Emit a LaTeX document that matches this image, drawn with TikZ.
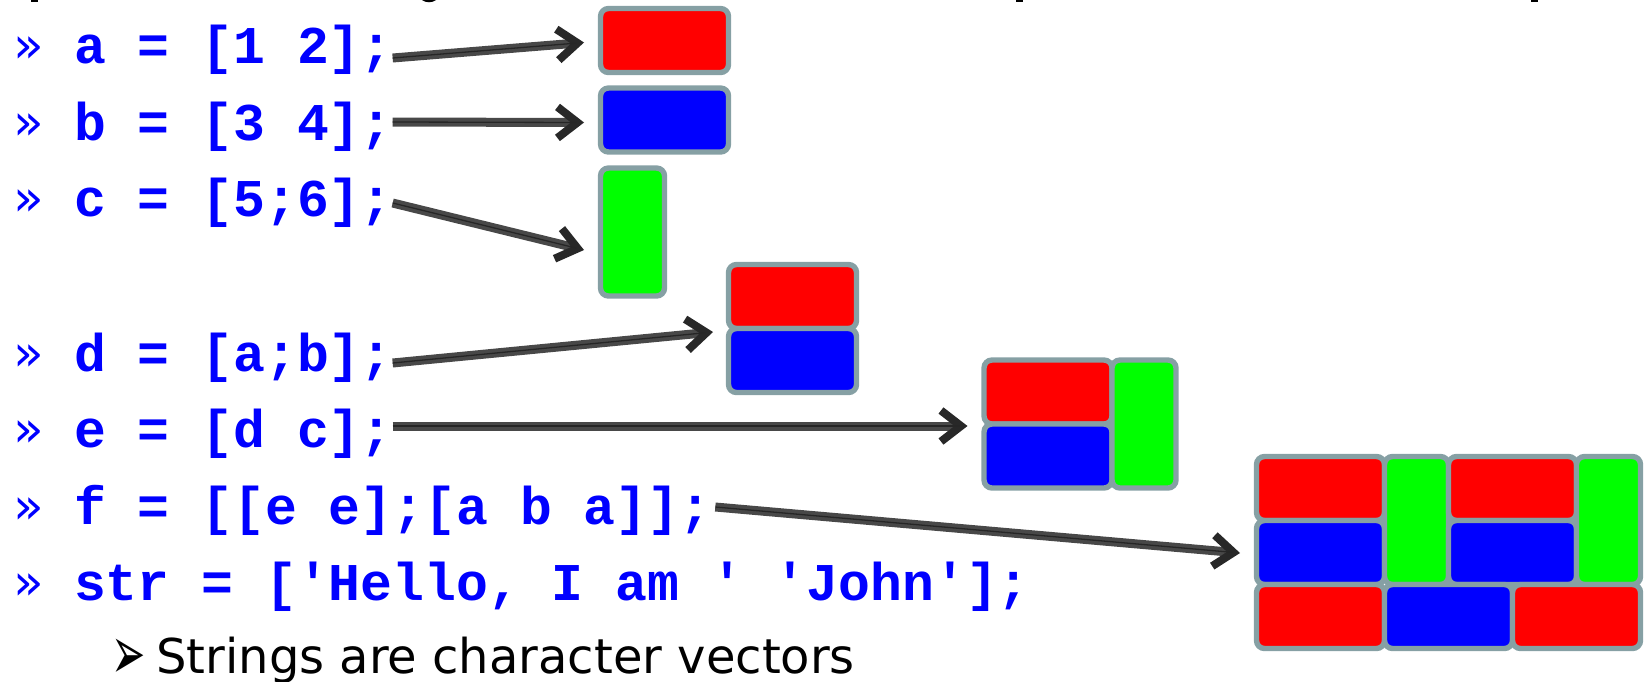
\documentclass[tikz,border=0pt]{standalone}
\usepackage{fontspec}
\setmainfont{DejaVu Sans}
\newfontfamily\codeb{Liberation Mono Bold}
\usetikzlibrary{arrows.meta}
\definecolor{codeblue}{RGB}{0,0,255}
\definecolor{edgegrey}{RGB}{134,160,164}
\definecolor{shaft}{RGB}{72,72,72}
\definecolor{headc}{RGB}{40,40,40}
\tikzset{
  cell/.style={draw=edgegrey,line width=5.4pt,rounded corners=8pt,inner sep=0pt,outer sep=0pt,anchor=north west},
  wide/.style={minimum width=128pt,minimum height=64pt},
  tall/.style={minimum width=64pt,minimum height=128pt},
  redc/.style={cell,wide,fill=red},
  bluec/.style={cell,wide,fill=blue},
  greenc/.style={cell,tall,fill=green},
  codeline/.style={anchor=base west,inner sep=0pt,outer sep=0pt,text=codeblue,font=\codeb\fontsize{53.1pt}{60pt}\selectfont},
  prompt/.style={anchor=base west,inner sep=0pt,outer sep=0pt,text=codeblue,font=\fontsize{50pt}{54pt}\selectfont},
  conn/.style={shaft,line width=9pt,-{Straight Barb[length=20pt,width=31pt,line width=8pt,color=headc]},
    postaction={draw=black!85,line width=1.3pt,-,shorten >=8pt}},
  scrap/.style={fill=black,draw=none},
}
\begin{document}
\begin{tikzpicture}[x=1pt,y=-1pt]
\useasboundingbox (0,0) rectangle (1649,681);
% remains of the cut-off line above
\fill[scrap] (31,0) rectangle (38,2);
\fill[scrap] (422,0) .. controls (426,3) and (432,3) .. (436,0) -- cycle;
\fill[scrap] (1016,0) rectangle (1023,2);
\fill[scrap] (1531,0) rectangle (1538,2);
% prompts
\foreach \n/\yy in {1/62.5,2/139,3/215.5,4/370,5/446.5,6/523,7/599.5}{
  \node[prompt] (p\n) at (13,\yy) {»};
}
% code
\node[codeline] (la) at (74,63.5) {a = [1 2];};
\node[codeline] (lb) at (74,140) {b = [3 4];};
\node[codeline] (lc) at (74,216.5) {c = [5;6];};
\node[codeline] (ld) at (74,371) {d = [a;b];};
\node[codeline] (le) at (74,447.5) {e = [d c];};
\node[codeline] (lf) at (74,524) {f = [[e e];[a b a]];};
\node[codeline] (ls) at (74,600.5) {str = ['Hello, I am ' 'John'];};
\node[anchor=base west,inner sep=0pt] (bullet) at (111,679) {\fontsize{41pt}{44pt}\selectfont\scalebox{1}[1.85]{➢}};
\node[anchor=base west,inner sep=0pt,font=\fontsize{48pt}{54pt}\selectfont] (note) at (156,673) {Strings are character vectors};
% boxes
\node[redc] (ba) at (600.5,8.5) {};
\node[bluec] (bb) at (600.5,88) {};
\node[greenc] (bc) at (600.5,168) {};
\node[redc] (d1) at (728.5,264.5) {};
\node[bluec] (d2) at (728.5,328.5) {};
\node[redc] (e1) at (984,360) {};
\node[bluec] (e2) at (984,424) {};
\node[greenc] (e3) at (1112,360) {};
\node[redc] (f1) at (1256.5,456.5) {};
\node[bluec] (f2) at (1256.5,520.5) {};
\node[greenc] (f3) at (1384.5,456.5) {};
\node[redc] (f4) at (1448.5,456.5) {};
\node[bluec] (f5) at (1448.5,520.5) {};
\node[greenc] (f6) at (1576.5,456.5) {};
\node[redc] (f7) at (1256.5,584.5) {};
\node[bluec] (f8) at (1384.5,584.5) {};
\node[redc] (f9) at (1512.5,584.5) {};
% connectors
\draw[conn] ([shift={(0,-5.5)}]la.base east) -- ([shift={(-16.5,2)}]ba.west);
\draw[conn] ([shift={(0,-18)}]lb.base east) -- ([shift={(-16.5,2.5)}]bb.west);
\draw[conn] ([shift={(0,-13.5)}]lc.base east) -- ([shift={(-16.5,18)}]bc.west);
\draw[conn] ([shift={(0,-8)}]ld.base east) -- ([shift={(-15.5,3.5)}]d2.north west);
\draw[conn] ([shift={(0,-21.5)}]le.base east) -- ([shift={(-16.5,2)}]e2.north west);
\draw[conn] ([shift={(4,-17)}]lf.base east) -- ([shift={(-16.5,-31.5)}]f2.south west);
\end{tikzpicture}
\end{document}
